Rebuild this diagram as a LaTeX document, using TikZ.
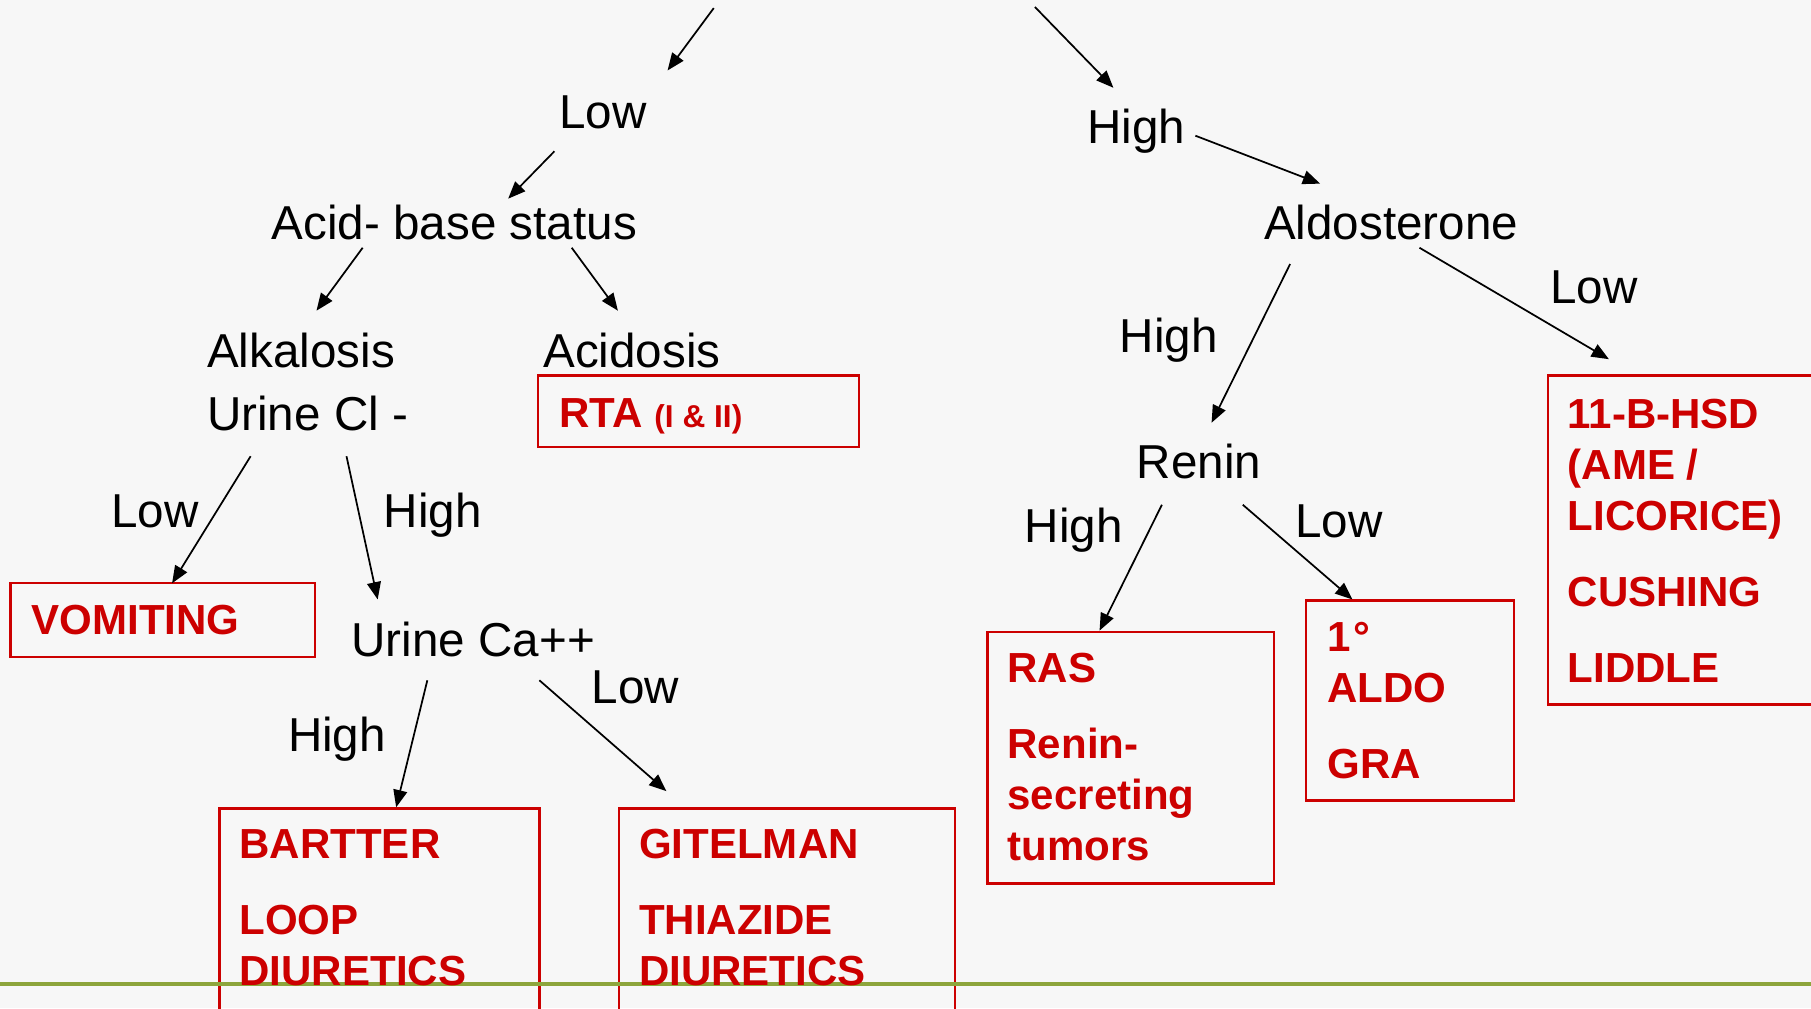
\documentclass[tikz,border=0pt]{standalone}
\usepackage{fontspec}
\setmainfont{Liberation Sans}
\usetikzlibrary{arrows.meta}
\definecolor{redc}{HTML}{CC0000}
\definecolor{bgc}{HTML}{F7F7F7}
\definecolor{greenl}{HTML}{8DA53C}
\tikzset{
  lbl/.style={font=\fontsize{20.6}{24}\selectfont, text=black, inner sep=0pt, anchor=base west},
  redtxt/.style={font=\bfseries\fontsize{18.2}{22}\selectfont, text=redc, inner sep=0pt, anchor=base west, align=left},
  redbox/.style={draw=redc, line width=1pt, inner sep=0pt, outer sep=0pt, anchor=north west},
  arr/.style={-{Triangle[length=7.5pt,width=6pt]}, line width=0.75pt, black}
}
\begin{document}
\begin{tikzpicture}[x=0.5pt,y=-0.5pt]
\useasboundingbox (0,0) rectangle (1568,873);
\fill[bgc] (0,0) rectangle (1568,873);

% boxes
\node[redbox, minimum width=139pt, minimum height=31pt] (rtabox) at (466,325) {};
\node[redbox, minimum width=132pt, minimum height=32pt] (vombox) at (9,505) {};
\node[redbox, minimum width=138.5pt, minimum height=100pt] (barbox) at (190,700) {};
\node[redbox, minimum width=145.5pt, minimum height=100pt] (gitbox) at (536,700) {};
\node[redbox, minimum width=124pt, minimum height=109pt] (rasbox) at (855,547) {};
\node[redbox, minimum width=90pt, minimum height=86.5pt] (aldbox) at (1131,520) {};
\node[redbox, minimum width=150pt, minimum height=142.5pt] (hsdbox) at (1340,325) {};

% green rule
\coordinate (gl) at (0,852);
\coordinate (gr) at (1568,852);
\draw[greenl, line width=1.8pt] (gl) -- (gr);

% black labels
\node[lbl] (low1) at (484,111) {Low};
\node[lbl] (abs) at (235,207) {Acid- base status};
\node[lbl] (high1) at (941,124) {High};
\node[lbl] (aldo) at (1094,207) {Aldosterone};
\node[lbl] (alk) at (179,318) {Alkalosis};
\node[lbl] (ucl) at (179,373) {Urine Cl -};
\node[lbl] (acid) at (470,318) {Acidosis};
\node[lbl] (highA) at (969,305) {High};
\node[lbl] (lowA) at (1342,263) {Low};
\node[lbl] (renin) at (984,414) {Renin};
\node[lbl] (lowU) at (96,457) {Low};
\node[lbl] (highU) at (332,457) {High};
\node[lbl] (uca) at (304,568) {Urine Ca++};
\node[lbl] (highC) at (249,651) {High};
\node[lbl] (lowC) at (512,609) {Low};
\node[lbl] (highR) at (887,470) {High};
\node[lbl] (lowR) at (1121,465) {Low};

% red texts (base = baseline of the last line)
\node[redtxt] (rta) at (484,370) {RTA {\fontsize{13.7}{16}\selectfont (I \& II)}};
\node[redtxt] (vom) at (27,549) {VOMITING};
\node[redtxt] (bar) at (207,853) {BARTTER\\[11pt]LOOP\\DIURETICS};
\node[redtxt] (git) at (553,853) {GITELMAN\\[11pt]THIAZIDE\\DIURETICS};
\node[redtxt] (ras) at (872,745) {RAS\\[11pt]Renin-\\secreting\\tumors};
\node[redtxt] (ald) at (1149,674) {1\kern1pt°\\ALDO\\[11pt]GRA};
\node[redtxt] (hsd) at (1357,591) {11-B-HSD\\(AME /\\LICORICE)\\[11pt]CUSHING\\[11pt]LIDDLE};

% arrow end points
\coordinate (a1s) at (618,7);    \coordinate (a1e) at (578,61);
\coordinate (a2s) at (896,6);    \coordinate (a2e) at (964,76);
\coordinate (a3s) at (480,131);  \coordinate (a3e) at (440,172);
\coordinate (a4s) at (1035,117.5); \coordinate (a4e) at (1143,159);
\coordinate (a5s) at (314,214.5); \coordinate (a5e) at (274,269);
\coordinate (a6s) at (495,214.5); \coordinate (a6e) at (535,269);
\coordinate (a7s) at (1117,228.6); \coordinate (a7e) at (1049,366);
\coordinate (a8s) at (1229,214.5); \coordinate (a8e) at (1393,311);
\coordinate (a9s) at (217,395);  \coordinate (a9e) at (149,505);
\coordinate (a10s) at (300,395); \coordinate (a10e) at (327,519);
\coordinate (a11s) at (1006,437); \coordinate (a11e) at (952,546);
\coordinate (a12s) at (1076,437); \coordinate (a12e) at (1171,519);
\coordinate (a13s) at (370,589); \coordinate (a13e) at (343,699);
\coordinate (a14s) at (467,589); \coordinate (a14e) at (577,685);

\foreach \i in {1,...,14} \draw[arr] (a\i s) -- (a\i e);
\end{tikzpicture}
\end{document}
